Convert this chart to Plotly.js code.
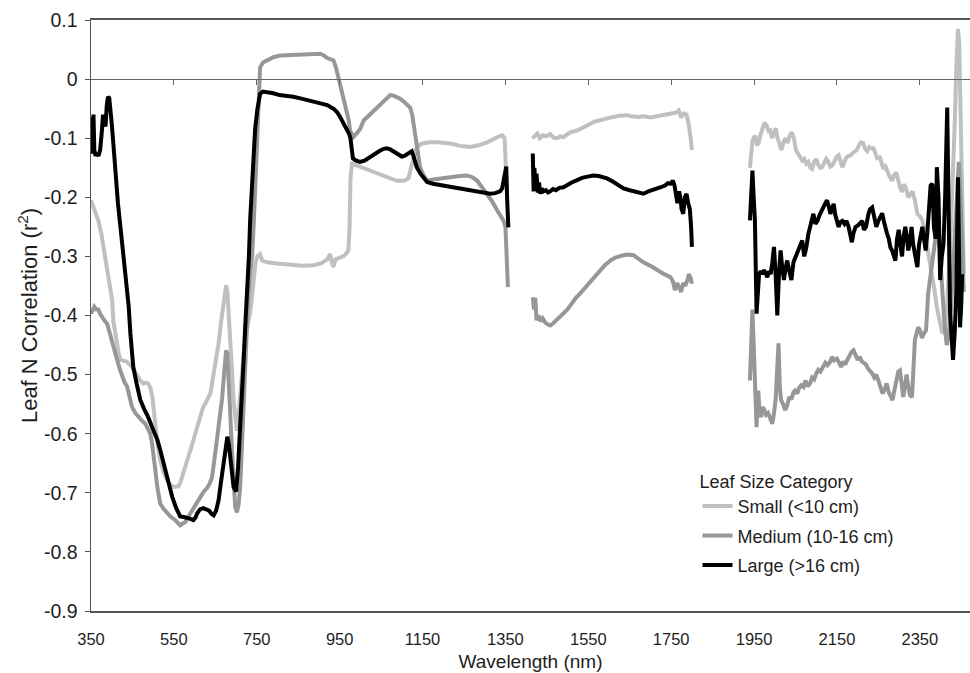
<!DOCTYPE html>
<html>
<head>
<meta charset="utf-8">
<script src="https://cdn.plot.ly/plotly-3.0.1.min.js"></script>
<style>html,body{margin:0;padding:0;background:#fff;}#chart{width:970px;height:673px;}</style>
</head>
<body>
<div id="chart"></div>
<script>
// ---- Data (wavelength nm, r^2) ; null = gap (water absorption bands removed)
const seriesNames = ["Small (<10 cm)", "Medium (10-16 cm)", "Large (>16 cm)"];

const xSmall = [350,355,360,368,375,380,386,392,397,401,404,408,413,417,421,428,436,442,449,456,462,469,476,482,488,493,498,502,505,511,517,525,534,541,548,555,561,566,570,576,582,590,597,605,614,620,626,632,638,642,646,652,658,664,670,673,676,679,682,686,690,694,698,702,706,710,714,720,727,735,741,747,751,758,763,775,798,820,838,860,887,905,920,927,931,935,940,950,959,966,971,974,976,980,985,991,1007,1023,1040,1056,1072,1088,1105,1116,1122,1128,1136,1149,1167,1185,1200,1217,1241,1265,1285,1306,1325,1342,1348,1354,
1380,
1415,1420,1427,1433,1440,1448,1458,1466,1474,1482,1490,1500,1510,1523,1535,1545,1554,1565,1580,1595,1610,1625,1643,1655,1670,1683,1700,1715,1730,1748,1760,1768,1774,1780,1787,1792,1795,1798,1800,
1870,
1940,1943,1946,1950,1953,1957,1961,1965,1970,1975,1980,1985,1989,1993,1997,2002,2006,2011,2016,2021,2026,2031,2036,2041,2046,2051,2056,2061,2066,2071,2076,2081,2086,2090,2095,2100,2105,2110,2114,2119,2124,2129,2134,2139,2144,2149,2154,2158,2163,2168,2173,2178,2183,2188,2193,2198,2203,2208,2213,2218,2223,2228,2233,2238,2243,2248,2253,2258,2262,2267,2272,2277,2283,2288,2293,2298,2303,2307,2312,2317,2322,2327,2332,2338,2344,2350,2356,2362,2368,2374,2380,2386,2391,2397,2404,2410,2416,2422,2428,2434,2438,2442,2445,2448,2452,2456];
const ySmall = [-0.205,-0.215,-0.228,-0.24,-0.262,-0.284,-0.305,-0.33,-0.35,-0.374,-0.41,-0.43,-0.447,-0.465,-0.475,-0.476,-0.478,-0.482,-0.487,-0.495,-0.503,-0.51,-0.515,-0.514,-0.515,-0.522,-0.538,-0.565,-0.589,-0.62,-0.645,-0.665,-0.679,-0.686,-0.69,-0.69,-0.689,-0.682,-0.674,-0.66,-0.645,-0.628,-0.61,-0.59,-0.566,-0.556,-0.549,-0.54,-0.532,-0.515,-0.498,-0.472,-0.447,-0.41,-0.374,-0.355,-0.349,-0.36,-0.39,-0.43,-0.49,-0.543,-0.58,-0.595,-0.57,-0.53,-0.49,-0.45,-0.42,-0.39,-0.35,-0.31,-0.3,-0.296,-0.307,-0.31,-0.312,-0.314,-0.315,-0.316,-0.315,-0.312,-0.305,-0.296,-0.31,-0.318,-0.305,-0.302,-0.3,-0.295,-0.29,-0.25,-0.17,-0.14,-0.145,-0.146,-0.15,-0.155,-0.159,-0.163,-0.168,-0.172,-0.172,-0.168,-0.15,-0.132,-0.115,-0.109,-0.107,-0.107,-0.108,-0.109,-0.113,-0.115,-0.112,-0.107,-0.1,-0.095,-0.1,-0.2,
null,
-0.1,-0.097,-0.092,-0.1,-0.095,-0.097,-0.093,-0.099,-0.1,-0.097,-0.098,-0.093,-0.089,-0.087,-0.082,-0.078,-0.076,-0.072,-0.069,-0.067,-0.064,-0.062,-0.061,-0.063,-0.064,-0.063,-0.065,-0.063,-0.061,-0.059,-0.057,-0.053,-0.065,-0.058,-0.06,-0.075,-0.087,-0.105,-0.12,
null,
-0.15,-0.115,-0.105,-0.098,-0.096,-0.112,-0.108,-0.095,-0.085,-0.074,-0.078,-0.088,-0.087,-0.1,-0.092,-0.083,-0.098,-0.11,-0.12,-0.106,-0.1,-0.108,-0.095,-0.09,-0.1,-0.12,-0.125,-0.132,-0.138,-0.135,-0.143,-0.14,-0.15,-0.152,-0.14,-0.135,-0.145,-0.15,-0.149,-0.14,-0.135,-0.14,-0.148,-0.146,-0.138,-0.132,-0.129,-0.14,-0.149,-0.14,-0.132,-0.13,-0.129,-0.125,-0.122,-0.12,-0.112,-0.107,-0.108,-0.118,-0.122,-0.115,-0.117,-0.117,-0.126,-0.136,-0.13,-0.145,-0.152,-0.148,-0.158,-0.165,-0.172,-0.162,-0.158,-0.175,-0.185,-0.191,-0.178,-0.185,-0.2,-0.195,-0.19,-0.205,-0.228,-0.232,-0.239,-0.26,-0.284,-0.305,-0.33,-0.36,-0.386,-0.41,-0.43,-0.425,-0.38,-0.3,-0.2,-0.08,0.02,0.085,0.06,-0.05,-0.25,-0.33];

const xMedium = [350,354,358,363,368,372,376,382,389,395,400,407,413,419,425,431,437,443,449,457,465,473,481,487,493,497,501,505,510,517,525,534,543,553,560,565,571,577,587,597,605,614,622,630,636,642,648,654,660,666,671,676,679,681,685,690,694,698,702,706,710,714,718,723,729,734,739,743,746,750,754,758,765,775,790,807,830,855,880,903,912,919,927,935,941,947,953,959,964,968,972,975,979,983,991,999,1008,1020,1031,1040,1052,1064,1072,1080,1088,1096,1108,1120,1125,1128,1132,1136,1140,1144,1152,1161,1175,1193,1210,1225,1240,1257,1270,1282,1294,1306,1318,1330,1340,1345,1350,1353,1356,
1385,
1416,1419,1422,1425,1430,1435,1440,1446,1452,1458,1464,1470,1478,1486,1498,1510,1520,1530,1540,1550,1562,1575,1590,1603,1615,1630,1643,1659,1670,1683,1700,1715,1730,1748,1754,1759,1764,1769,1774,1779,1784,1789,1793,1797,1800,
1870,
1940,1943,1946,1949,1952,1956,1960,1963,1967,1971,1975,1979,1984,1989,1994,1998,2002,2005,2009,2012,2015,2020,2025,2030,2035,2040,2045,2049,2054,2059,2064,2069,2074,2079,2085,2090,2095,2100,2105,2110,2117,2122,2127,2133,2138,2143,2150,2155,2160,2165,2170,2175,2180,2185,2190,2195,2200,2205,2210,2215,2220,2225,2230,2235,2240,2245,2250,2255,2260,2265,2270,2275,2280,2284,2289,2294,2298,2302,2306,2310,2314,2318,2322,2326,2331,2334,2338,2342,2346,2350,2355,2360,2365,2370,2376,2382,2387,2391,2396,2400,2405,2410,2415,2420,2425,2430,2435,2440,2444,2448,2452,2456];
const yMedium = [-0.397,-0.39,-0.385,-0.39,-0.39,-0.397,-0.403,-0.408,-0.414,-0.43,-0.447,-0.462,-0.475,-0.49,-0.504,-0.513,-0.52,-0.537,-0.555,-0.565,-0.572,-0.578,-0.583,-0.59,-0.6,-0.615,-0.633,-0.66,-0.69,-0.718,-0.727,-0.735,-0.741,-0.746,-0.751,-0.755,-0.752,-0.75,-0.738,-0.726,-0.717,-0.707,-0.698,-0.692,-0.685,-0.674,-0.645,-0.61,-0.575,-0.543,-0.5,-0.459,-0.465,-0.487,-0.55,-0.628,-0.68,-0.724,-0.733,-0.72,-0.69,-0.62,-0.543,-0.46,-0.374,-0.33,-0.296,-0.24,-0.183,-0.1,-0.014,0.02,0.028,0.032,0.037,0.04,0.041,0.041,0.042,0.043,0.04,0.036,0.034,0.032,0.02,0.003,-0.02,-0.036,-0.046,-0.056,-0.07,-0.087,-0.095,-0.098,-0.092,-0.085,-0.07,-0.062,-0.055,-0.048,-0.04,-0.032,-0.027,-0.028,-0.03,-0.033,-0.04,-0.048,-0.06,-0.075,-0.095,-0.115,-0.135,-0.149,-0.162,-0.172,-0.17,-0.168,-0.167,-0.166,-0.164,-0.163,-0.166,-0.172,-0.183,-0.194,-0.207,-0.222,-0.232,-0.239,-0.25,-0.3,-0.352,
null,
-0.369,-0.39,-0.37,-0.408,-0.4,-0.41,-0.405,-0.412,-0.415,-0.417,-0.414,-0.41,-0.405,-0.398,-0.391,-0.38,-0.37,-0.363,-0.355,-0.345,-0.335,-0.325,-0.315,-0.307,-0.302,-0.299,-0.297,-0.298,-0.304,-0.31,-0.316,-0.323,-0.329,-0.335,-0.342,-0.357,-0.345,-0.352,-0.36,-0.345,-0.35,-0.34,-0.33,-0.337,-0.346,
null,
-0.51,-0.42,-0.39,-0.45,-0.53,-0.589,-0.527,-0.56,-0.572,-0.555,-0.56,-0.568,-0.565,-0.575,-0.583,-0.565,-0.543,-0.5,-0.447,-0.52,-0.543,-0.55,-0.56,-0.552,-0.538,-0.542,-0.53,-0.527,-0.532,-0.522,-0.518,-0.521,-0.51,-0.52,-0.515,-0.505,-0.508,-0.498,-0.492,-0.495,-0.487,-0.48,-0.484,-0.479,-0.47,-0.476,-0.473,-0.482,-0.487,-0.478,-0.483,-0.475,-0.468,-0.462,-0.459,-0.468,-0.475,-0.47,-0.478,-0.48,-0.483,-0.49,-0.493,-0.498,-0.505,-0.5,-0.51,-0.52,-0.532,-0.525,-0.515,-0.53,-0.54,-0.543,-0.525,-0.51,-0.495,-0.493,-0.515,-0.538,-0.52,-0.5,-0.52,-0.535,-0.538,-0.49,-0.442,-0.43,-0.42,-0.425,-0.438,-0.43,-0.425,-0.363,-0.33,-0.296,-0.27,-0.251,-0.27,-0.32,-0.37,-0.42,-0.45,-0.43,-0.39,-0.33,-0.26,-0.2,-0.14,-0.2,-0.3,-0.36];

const xLarge = [350,352,354,356,358,361,364,368,372,376,379,382,385,388,391,394,397,400,404,409,415,421,427,433,437,441,445,449,452,460,469,478,488,498,505,510,518,525,535,546,555,565,574,582,590,597,602,606,613,621,628,635,640,646,652,658,664,670,675,679,683,686,690,694,700,703,705,709,714,718,722,727,731,734,738,742,746,751,755,758,765,775,790,805,820,838,858,878,900,920,935,944,951,960,968,973,976,979,982,990,999,1010,1020,1031,1045,1056,1064,1072,1080,1090,1100,1106,1114,1120,1124,1128,1132,1136,1145,1153,1161,1175,1190,1200,1220,1241,1260,1281,1300,1313,1325,1337,1342,1347,1350,1352,1354,1357,
1385,
1416,1418,1420,1422,1425,1428,1431,1434,1438,1442,1448,1453,1458,1465,1472,1480,1490,1500,1510,1523,1535,1548,1562,1575,1585,1595,1608,1620,1635,1650,1665,1683,1695,1705,1715,1725,1735,1742,1748,1754,1758,1762,1765,1769,1772,1775,1779,1783,1787,1791,1795,1798,1800,
1870,
1940,1943,1946,1949,1952,1956,1959,1962,1966,1970,1974,1978,1982,1986,1990,1994,1998,2002,2006,2010,2014,2018,2022,2026,2030,2035,2040,2045,2050,2055,2060,2066,2071,2076,2081,2086,2090,2093,2098,2103,2108,2113,2117,2122,2126,2130,2134,2138,2142,2146,2150,2154,2158,2163,2168,2173,2178,2183,2186,2190,2195,2200,2205,2211,2215,2220,2226,2230,2235,2240,2245,2250,2255,2259,2263,2267,2271,2275,2279,2283,2287,2291,2295,2299,2303,2307,2311,2315,2319,2322,2326,2330,2334,2338,2344,2348,2352,2356,2360,2364,2368,2372,2376,2380,2384,2388,2391,2395,2399,2403,2407,2411,2416,2419,2423,2427,2430,2434,2438,2442,2445,2447,2450,2452];
const yLarge = [-0.064,-0.1,-0.126,-0.06,-0.12,-0.13,-0.125,-0.13,-0.12,-0.09,-0.06,-0.075,-0.08,-0.045,-0.03,-0.032,-0.05,-0.075,-0.11,-0.166,-0.21,-0.25,-0.29,-0.33,-0.36,-0.385,-0.43,-0.47,-0.487,-0.515,-0.543,-0.558,-0.572,-0.59,-0.602,-0.61,-0.63,-0.65,-0.68,-0.707,-0.725,-0.74,-0.741,-0.742,-0.744,-0.746,-0.742,-0.735,-0.728,-0.726,-0.728,-0.73,-0.735,-0.738,-0.73,-0.712,-0.68,-0.645,-0.615,-0.605,-0.62,-0.64,-0.668,-0.69,-0.698,-0.68,-0.656,-0.6,-0.543,-0.48,-0.42,-0.36,-0.3,-0.239,-0.18,-0.126,-0.085,-0.053,-0.035,-0.025,-0.021,-0.022,-0.024,-0.027,-0.028,-0.03,-0.033,-0.036,-0.04,-0.044,-0.05,-0.056,-0.064,-0.075,-0.087,-0.093,-0.1,-0.125,-0.134,-0.138,-0.14,-0.138,-0.133,-0.129,-0.122,-0.118,-0.117,-0.119,-0.123,-0.127,-0.131,-0.13,-0.127,-0.124,-0.122,-0.13,-0.14,-0.149,-0.16,-0.168,-0.174,-0.177,-0.179,-0.18,-0.183,-0.185,-0.188,-0.191,-0.193,-0.194,-0.193,-0.19,-0.185,-0.17,-0.155,-0.148,-0.2,-0.251,
null,
-0.126,-0.19,-0.15,-0.185,-0.16,-0.192,-0.175,-0.194,-0.185,-0.19,-0.188,-0.192,-0.19,-0.186,-0.188,-0.184,-0.183,-0.178,-0.175,-0.171,-0.167,-0.165,-0.163,-0.164,-0.166,-0.168,-0.173,-0.178,-0.185,-0.188,-0.19,-0.194,-0.19,-0.188,-0.185,-0.183,-0.18,-0.176,-0.177,-0.172,-0.18,-0.195,-0.21,-0.19,-0.2,-0.22,-0.228,-0.2,-0.194,-0.21,-0.22,-0.25,-0.284,
null,
-0.239,-0.2,-0.155,-0.2,-0.239,-0.397,-0.35,-0.33,-0.325,-0.33,-0.323,-0.33,-0.335,-0.325,-0.33,-0.31,-0.284,-0.33,-0.4,-0.33,-0.29,-0.32,-0.34,-0.32,-0.307,-0.325,-0.34,-0.31,-0.3,-0.29,-0.28,-0.273,-0.3,-0.285,-0.262,-0.25,-0.235,-0.228,-0.245,-0.24,-0.23,-0.22,-0.217,-0.21,-0.205,-0.215,-0.228,-0.22,-0.211,-0.23,-0.24,-0.25,-0.242,-0.24,-0.245,-0.24,-0.25,-0.265,-0.276,-0.26,-0.25,-0.248,-0.245,-0.24,-0.255,-0.25,-0.228,-0.22,-0.217,-0.235,-0.25,-0.24,-0.232,-0.227,-0.24,-0.255,-0.262,-0.27,-0.285,-0.29,-0.3,-0.307,-0.27,-0.255,-0.28,-0.3,-0.265,-0.25,-0.27,-0.29,-0.275,-0.25,-0.28,-0.3,-0.318,-0.28,-0.26,-0.25,-0.27,-0.29,-0.26,-0.22,-0.18,-0.177,-0.25,-0.27,-0.149,-0.2,-0.34,-0.3,-0.28,-0.2,-0.048,-0.2,-0.397,-0.44,-0.475,-0.43,-0.36,-0.166,-0.3,-0.42,-0.38,-0.33];

const xTickVals = [350,550,750,950,1150,1350,1550,1750,1950,2150,2350];
const xTickText = ["350","550","750","950","1150","1350","1550","1750","1950","2150","2350"];
const zeroAxisTicks = [550,750,950,1150,1350,1550,1750,1950,2150,2350];
const yTickVals = [0.1,0,-0.1,-0.2,-0.3,-0.4,-0.5,-0.6,-0.7,-0.8,-0.9];
const yTickText = ["0.1","0","-0.1","-0.2","-0.3","-0.4","-0.5","-0.6","-0.7","-0.8","-0.9"];
const colors = ["#c0c0c0", "#979797", "#000000"];
const xRange = [350, 2471];

const FONT = "Liberation Sans, Arial, sans-serif";
const TXT = "#1e1e1e";
const xs = [xSmall, xMedium, xLarge];
const ys = [ySmall, yMedium, yLarge];
const traces = seriesNames.map((n, i) => ({
  type: "scatter", mode: "lines", name: n,
  x: xs[i], y: ys[i], connectgaps: false,
  legendgroup: "g" + i,
  line: {color: colors[i], width: 4, shape: "linear"},
  hoverinfo: "skip"
}));
// invisible helper trace to host the zero-crossing axis
traces.push({type: "scatter", mode: "lines", x: [], y: [], xaxis: "x2", yaxis: "y", showlegend: false, hoverinfo: "skip"});

const layout = {
  width: 970, height: 673,
  margin: {l: 91, r: 0, t: 20, b: 62},
  paper_bgcolor: "#ffffff", plot_bgcolor: "#ffffff",
  font: {family: FONT, size: 16, color: TXT},
  showlegend: true,
  legend: {
    x: 0.69, y: 0.2985, xanchor: "left", yanchor: "top",
    bgcolor: "rgba(0,0,0,0)", borderwidth: 0,
    traceorder: "grouped", tracegroupgap: 3,
    font: {family: FONT, size: 18, color: TXT},
    title: {text: "<span style='font-size:18px'>Leaf Size Category</span>", font: {family: FONT, size: 41, color: TXT}}
  },
  xaxis: {
    range: xRange, showgrid: false, zeroline: false,
    showline: true, linecolor: "#555", linewidth: 2, mirror: true,
    ticks: "", tickmode: "array", tickvals: xTickVals, ticktext: xTickText,
    ticklabelstandoff: 12,
    tickfont: {family: FONT, size: 16.5, color: TXT},
    title: {text: "Wavelength (nm)", font: {family: FONT, size: 19, color: TXT}, standoff: 8},
    fixedrange: true
  },
  xaxis2: {
    overlaying: "x", anchor: "free", position: 0.9, side: "bottom",
    range: xRange, showgrid: false, zeroline: false,
    showline: true, linecolor: "#666", linewidth: 1,
    ticks: "outside", ticklen: 5, tickwidth: 1, tickcolor: "#666",
    tickmode: "array", tickvals: zeroAxisTicks, showticklabels: false,
    fixedrange: true
  },
  yaxis: {
    range: [-0.9, 0.1], showgrid: false, zeroline: false,
    showline: true, linecolor: "#555", linewidth: 1.5,
    ticks: "outside", ticklen: 5, tickwidth: 1, tickcolor: "#555",
    tickmode: "array", tickvals: yTickVals, ticktext: yTickText,
    ticklabelstandoff: 3,
    tickfont: {family: FONT, size: 19.5, color: TXT},
    title: {text: "Leaf N Correlation (r<sup>2</sup>)", font: {family: FONT, size: 22, color: TXT}, standoff: 0},
    fixedrange: true
  }
};

Plotly.newPlot("chart", traces, layout, {displayModeBar: false, staticPlot: true});
</script>
</body>
</html>
